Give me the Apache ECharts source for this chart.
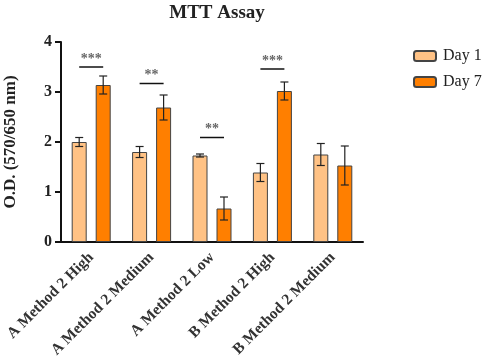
<!DOCTYPE html>
<html><head><meta charset="utf-8">
<script src="https://cdn.jsdelivr.net/npm/echarts@6/dist/echarts.min.js"></script>
<style>html,body{margin:0;padding:0;background:#fff}#c{width:484px;height:364px}</style>
</head><body><div id="c"></div>
<script>
const categories = ['A Method 2 High','A Method 2 Medium','A Method 2 Low','B Method 2 High','B Method 2 Medium'];
const day1 = [2.00, 1.80, 1.73, 1.39, 1.75];
const day1Err = [0.09, 0.11, 0.03, 0.18, 0.22];
const day7 = [3.14, 2.69, 0.67, 3.02, 1.53];
const day7Err = [0.18, 0.25, 0.23, 0.18, 0.39];
const sigIndex = [0, 1, 2, 3];
const sigLevel = [3.50, 3.17, 2.09, 3.46];
const sigText = ['***', '**', '**', '***'];
const yTicks = [0, 1, 2, 3, 4];

const SERIF = '"Liberation Serif","Times New Roman",serif';
const BAR_W = 15, HALF_OFF = 12;

function errSeries(vals, errs, off) {
  return {
    type: 'custom', z: 5, silent: true,
    data: vals.map((v, i) => [i, v, errs[i]]),
    renderItem: function (params, api) {
      const i = api.value(0), v = api.value(1), e = api.value(2);
      const top = api.coord([i, v + e]), bot = api.coord([i, v - e]);
      const x = top[0] + off, cw = 4;
      const st = { stroke: '#222', lineWidth: 1.2 };
      return { type: 'group', children: [
        { type: 'line', shape: { x1: x, y1: top[1], x2: x, y2: bot[1] }, style: st },
        { type: 'line', shape: { x1: x - cw, y1: top[1], x2: x + cw, y2: top[1] }, style: st },
        { type: 'line', shape: { x1: x - cw, y1: bot[1], x2: x + cw, y2: bot[1] }, style: st }
      ]};
    }
  };
}

const chart = echarts.init(document.getElementById('c'), null, { renderer: 'canvas' });
chart.setOption({
  animation: false,
  title: { text: 'MTT Assay', left: 212, textAlign: 'center', top: -1,
    textStyle: { fontFamily: SERIF, fontWeight: 'bold', fontSize: 19, color: '#222' } },
  legend: {
    orient: 'vertical', left: 408, top: 43, itemWidth: 22, itemHeight: 10, itemGap: 10,
    textStyle: { fontFamily: SERIF, fontSize: 16, color: '#222', padding: [0, 0, 0, 2] },
    data: ['Day 1', 'Day 7']
  },
  grid: { left: 61, top: 42, width: 302, height: 200, outerBoundsMode: 'none', containLabel: false },
  xAxis: {
    type: 'category', data: categories,
    axisLine: { lineStyle: { color: '#111', width: 2 } },
    axisTick: { alignWithLabel: true, length: 6, lineStyle: { color: '#111', width: 2 } },
    axisLabel: { rotate: 45, interval: 0, margin: 13, fontFamily: SERIF, fontWeight: 'bold', fontSize: 15.5, color: '#333' }
  },
  yAxis: {
    type: 'value', min: 0, max: 4, interval: 1,
    name: 'O.D. (570/650 nm)', nameLocation: 'middle', nameGap: 42, nameRotate: 90,
    nameTextStyle: { fontFamily: SERIF, fontWeight: 'bold', fontSize: 17, color: '#222' },
    axisLine: { show: true, lineStyle: { color: '#111', width: 2 } },
    axisTick: { show: true, length: 6, lineStyle: { color: '#111', width: 2 } },
    splitLine: { show: false },
    axisLabel: { margin: 9, fontFamily: SERIF, fontWeight: 'bold', fontSize: 16, color: '#222',
      formatter: v => yTicks.includes(v) ? String(v) : '' }
  },
  series: [
    { name: 'Day 1', type: 'bar', data: day1, barWidth: BAR_W, barGap: '60%',
      itemStyle: { color: '#FFC285', borderColor: '#444', borderWidth: 1 } },
    { name: 'Day 7', type: 'bar', data: day7, barWidth: BAR_W, barGap: '60%',
      itemStyle: { color: '#FF7F00', borderColor: '#444', borderWidth: 1 } },
    errSeries(day1, day1Err, -HALF_OFF),
    errSeries(day7, day7Err, HALF_OFF),
    {
      type: 'custom', z: 6, silent: true,
      data: sigIndex.map((c, k) => [c, sigLevel[k], k]),
      renderItem: function (params, api) {
        const c = api.value(0), y = api.value(1), k = api.value(2);
        const p = api.coord([c, y]);
        return { type: 'group', children: [
          { type: 'line', shape: { x1: p[0] - HALF_OFF, y1: p[1], x2: p[0] + HALF_OFF, y2: p[1] },
            style: { stroke: '#111', lineWidth: 1.5 } },
          { type: 'text', x: p[0], y: p[1] - 1,
            style: { text: sigText[k], align: 'center', verticalAlign: 'bottom',
              font: 'bold 14px ' + SERIF, fill: '#666' } }
        ]};
      }
    }
  ]
});
</script></body></html>
